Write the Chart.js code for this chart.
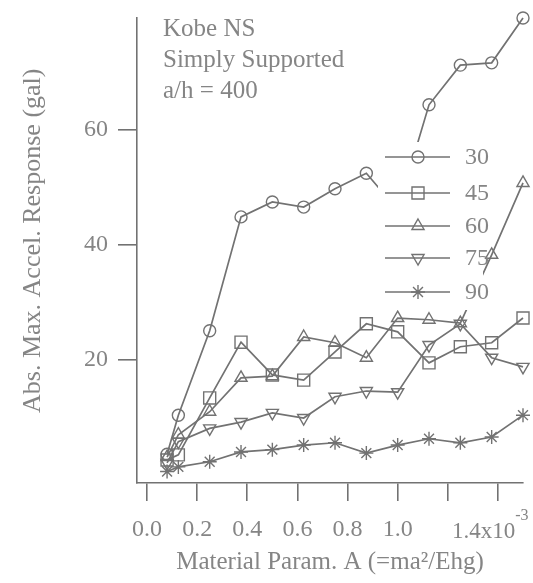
<!DOCTYPE html>
<html>
<head>
<meta charset="utf-8">
<script src="https://cdn.jsdelivr.net/npm/chart.js@4.4.0/dist/chart.umd.min.js"></script>
<style>
  body { margin: 0; background: #fff; }
  canvas { display: block; }
</style>
</head>
<body>
<canvas id="chart" width="533" height="583"></canvas>
<script>
// material parameter A (x 10^-3)
const xValues = [0.08, 0.125, 0.25, 0.375, 0.5, 0.625, 0.75, 0.875, 1.0, 1.125, 1.25, 1.375, 1.5];

// abs. max. accel. response (gal), one list per angle
const s30 = [3.5, 10.3, 25.0, 44.8, 47.4, 46.5, 49.7, 52.4, 46.0, 64.3, 71.2, 71.6, 79.4];
const s45 = [2.5, 3.4, 13.3, 23.0, 17.3, 16.4, 21.3, 26.2, 24.8, 19.4, 22.2, 22.9, 27.2];
const s60 = [3.0, 6.9, 10.9, 16.8, 17.1, 23.9, 22.9, 20.3, 27.2, 26.9, 26.3, 38.2, 50.7];
const s75 = [2.0, 5.7, 8.0, 9.1, 10.7, 9.8, 13.5, 14.5, 14.3, 22.5, 26.2, 20.3, 18.7];
const s90 = [0.5, 1.3, 2.2, 3.9, 4.3, 5.1, 5.5, 3.7, 5.1, 6.2, 5.5, 6.5, 10.3];

const seriesNames = ['30', '45', '60', '75', '90'];

const xTicks = [0, 0.2, 0.4, 0.6, 0.8, 1.0, 1.2, 1.4];
const xTickLabels = ['0.0', '0.2', '0.4', '0.6', '0.8', '1.0', '', ''];
const yTicks = [20, 40, 60];

const notes = ['Kobe NS', 'Simply Supported', 'a/h = 400'];

const serif = "'Liberation Serif', 'Times New Roman', serif";
const lineColor = '#727272';
const textColor = '#858585';

const toPoints = (ys) => xValues.map((x, i) => ({ x: x, y: ys[i] }));

const markers = [
    { pointStyle: 'circle', radius: 6, rotation: 0 },
    { pointStyle: 'rect', radius: 8.5, rotation: 0 },
    { pointStyle: 'triangle', radius: 7, rotation: 0 },
    { pointStyle: 'triangle', radius: 7, rotation: 180 },
    { pointStyle: 'star', radius: 7, rotation: 0 }
];

const datasets = [s30, s45, s60, s75, s90].map((ys, i) => ({
    label: seriesNames[i],
    data: toPoints(ys),
    borderColor: lineColor,
    borderWidth: 1.7,
    pointStyle: markers[i].pointStyle,
    pointRadius: markers[i].radius,
    pointRotation: markers[i].rotation,
    pointBorderColor: lineColor,
    pointBorderWidth: 1.4,
    pointBackgroundColor: 'rgba(0,0,0,0)',
    tension: 0,
    clip: false
}));

// white box legend with a line + marker sample, drawn over the lines
const legendBox = {
    id: 'legendBox',
    afterDatasetsDraw(chart) {
        const ctx = chart.ctx;
        const rows = [157, 193, 226, 258, 292];
        ctx.save();
        ctx.fillStyle = '#fff';
        ctx.fillRect(378, 142, 105, 168);
        rows.forEach((y, i) => {
            ctx.strokeStyle = lineColor;
            ctx.lineWidth = 1.7;
            ctx.beginPath();
            ctx.moveTo(385, y);
            ctx.lineTo(450, y);
            ctx.stroke();
            ctx.lineWidth = 1.4;
            ctx.fillStyle = 'rgba(0,0,0,0)';
            Chart.helpers.drawPoint(ctx, {
                pointStyle: markers[i].pointStyle,
                radius: markers[i].radius,
                rotation: markers[i].rotation,
                borderWidth: 1.4
            }, 418, y);
            ctx.fillStyle = textColor;
            ctx.font = '24px ' + serif;
            ctx.textAlign = 'left';
            ctx.textBaseline = 'middle';
            ctx.fillText(seriesNames[i], 465, y + 1);
        });
        ctx.restore();
    },
    afterDraw(chart) {
        const ctx = chart.ctx;
        const xs = chart.scales.x;
        ctx.save();
        ctx.fillStyle = textColor;
        // notes in upper left
        ctx.font = '25px ' + serif;
        ctx.textAlign = 'left';
        ctx.textBaseline = 'alphabetic';
        notes.forEach((t, i) => ctx.fillText(t, 163, 36 + i * 31));
        // last x tick label with exponent
        const px = xs.getPixelForValue(1.4);
        ctx.font = '23px ' + serif;
        const base = '1.4x10';
        const x0 = px - 46;
        ctx.fillText(base, x0, 538);
        const w = ctx.measureText(base).width;
        ctx.font = '16px ' + serif;
        ctx.fillText('-3', x0 + w, 520);
        ctx.restore();
    }
};

new Chart(document.getElementById('chart'), {
    type: 'line',
    data: { datasets: datasets },
    options: {
        responsive: false,
        animation: false,
        layout: { autoPadding: false, padding: { top: 18, right: 10, left: 0, bottom: 0 } },
        plugins: {
            legend: { display: false },
            tooltip: { enabled: false }
        },
        scales: {
            x: {
                type: 'linear',
                min: -0.04,
                max: 1.5,
                afterBuildTicks: (scale) => { scale.ticks = xTicks.map(v => ({ value: v })); },
                afterFit: (scale) => {
                    scale.height = 100;
                    scale.paddingLeft = 0;
                    scale.paddingRight = 0;
                },
                border: { display: true, color: lineColor, width: 1.6 },
                grid: { drawOnChartArea: false, drawTicks: true, tickLength: 18, color: lineColor, lineWidth: 1.6 },
                ticks: {
                    autoSkip: false,
                    maxRotation: 0,
                    padding: 14,
                    color: textColor,
                    font: { family: serif, size: 24 },
                    callback: (value, index) => xTickLabels[index]
                },
                title: {
                    display: true,
                    text: 'Material Param. A (=ma²/Ehg)',
                    color: textColor,
                    font: { family: serif, size: 25 },
                    padding: { top: 0, bottom: 6 }
                }
            },
            y: {
                min: -1.5,
                max: 79.4,
                afterBuildTicks: (scale) => { scale.ticks = yTicks.map(v => ({ value: v })); },
                afterFit: (scale) => {
                    scale.width = 137;
                    scale.paddingTop = 0;
                    scale.paddingBottom = 0;
                },
                border: { display: true, color: lineColor, width: 1.6 },
                grid: { drawOnChartArea: false, drawTicks: true, tickLength: 19, color: lineColor, lineWidth: 1.6 },
                ticks: {
                    padding: 10,
                    color: textColor,
                    font: { family: serif, size: 24 }
                },
                title: {
                    display: true,
                    // leading spaces nudge the centred title upward a little
                    text: '   Abs. Max. Accel. Response (gal)',
                    color: textColor,
                    font: { family: serif, size: 26 },
                    padding: { top: 18, bottom: 0 }
                }
            }
        }
    },
    plugins: [legendBox]
});
</script>
</body>
</html>
